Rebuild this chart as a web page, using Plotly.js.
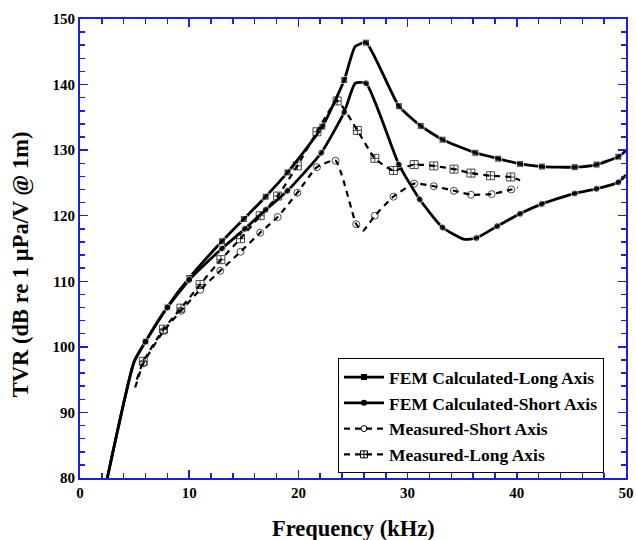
<!DOCTYPE html>
<html>
<head>
<meta charset="utf-8">
<script src="https://cdn.plot.ly/plotly-3.0.1.min.js"></script>
<style>html,body{margin:0;padding:0;background:#fff;}#chart{width:636px;height:540px;}</style>
</head>
<body>
<div id="chart"></div>
<script>
// FEM Calculated - Long Axis
const femLongX = [2.5, 4.95, 6.0, 8.0, 10.0, 13.0, 15.0, 17.0, 19.0, 22.2, 24.2, 25.2, 26.2, 29.2, 31.2, 33.2, 36.2, 38.3, 40.3, 42.3, 45.3, 47.3, 49.3, 50.0];
const femLongY = [80.0, 97.7, 100.8, 106.1, 110.5, 116.1, 119.5, 122.9, 126.6, 133.6, 140.7, 145.8, 146.4, 136.7, 133.7, 131.6, 129.6, 128.7, 127.9, 127.5, 127.4, 127.8, 129.0, 129.9];
const femLongMarked = [0, 0, 1, 1, 1, 1, 1, 1, 1, 1, 1, 0, 1, 1, 1, 1, 1, 1, 1, 1, 1, 1, 1, 0];

// FEM Calculated - Short Axis
const femShortX = [2.5, 4.95, 6.0, 8.0, 10.0, 13.0, 15.1, 17.0, 19.0, 22.1, 24.2, 25.2, 26.2, 29.2, 31.1, 33.2, 35.2, 36.3, 38.2, 40.3, 42.3, 45.3, 47.3, 49.3, 50.0];
const femShortY = [80.0, 97.7, 100.8, 106.0, 110.2, 115.0, 118.0, 120.9, 123.8, 129.6, 135.8, 140.2, 140.2, 127.8, 122.5, 118.2, 116.4, 116.6, 118.4, 120.3, 121.8, 123.4, 124.1, 125.1, 126.2];
const femShortMarked = [0, 0, 1, 1, 1, 1, 1, 1, 1, 1, 1, 0, 1, 1, 1, 1, 0, 1, 1, 1, 1, 1, 1, 1, 0];

// Measured - Short Axis
const measShortX = [5.05, 5.8, 7.65, 9.24, 11.0, 12.84, 14.7, 16.5, 18.1, 19.9, 21.7, 23.4, 25.3, 25.9, 27.0, 28.7, 30.6, 32.4, 34.25, 35.8, 37.7, 39.5, 40.1];
const measShortY = [93.8, 97.5, 102.4, 105.5, 108.7, 111.6, 114.5, 117.4, 119.8, 123.5, 127.4, 128.4, 118.7, 117.7, 120.0, 122.9, 124.9, 124.5, 123.8, 123.2, 123.3, 124.0, 124.3];
const measShortMarked = [0, 1, 1, 1, 1, 1, 1, 1, 1, 1, 1, 1, 1, 0, 1, 1, 1, 1, 1, 1, 1, 1, 0];

// Measured - Long Axis
const measLongX = [5.2, 5.8, 7.65, 9.24, 11.0, 12.9, 14.7, 16.5, 18.1, 19.9, 21.7, 23.55, 25.4, 27.0, 28.7, 30.6, 32.4, 34.25, 35.8, 37.6, 39.45, 40.3];
const measLongY = [95.0, 97.8, 102.7, 105.9, 109.5, 113.3, 116.5, 120.0, 123.0, 127.6, 132.8, 137.5, 133.0, 128.75, 126.9, 127.8, 127.6, 127.1, 126.5, 126.1, 125.9, 125.4];
const measLongMarked = [0, 1, 1, 1, 1, 1, 1, 1, 1, 1, 1, 1, 1, 1, 1, 1, 1, 1, 1, 1, 1, 0];

const seriesNames = ['FEM Calculated-Long Axis', 'FEM Calculated-Short Axis', 'Measured-Short Axis', 'Measured-Long Axis'];
const xTickVals = [0, 10, 20, 30, 40, 50];
const yTickVals = [80, 90, 100, 110, 120, 130, 140, 150];
const xTitle = 'Frequency (kHz)';
const yTitle = 'TVR (dB re 1 µPa/V @ 1m)';

const serif = 'Liberation Serif, Times New Roman, serif';
const axisBlue = 'rgb(30,30,225)';

function sizes(flags, s) { return flags.map(f => f ? s : 0); }

const styles = [
  {line: {color: '#000', width: 2.8, shape: 'spline', smoothing: 0.5},
   marker: {symbol: 'square', color: '#000', size: 7}},
  {line: {color: '#000', width: 2.8, shape: 'spline', smoothing: 0.5},
   marker: {symbol: 'circle', color: '#000', size: 7}},
  {line: {color: '#000', width: 2.2, dash: '6px,5px', shape: 'spline', smoothing: 0.5},
   marker: {symbol: 'circle-open', color: '#000', size: 7, line: {width: 1, color: '#000'}}},
  {line: {color: '#000', width: 2.2, dash: '6px,5px', shape: 'spline', smoothing: 0.5},
   marker: {symbol: 'square-cross-open', color: '#000', size: 8, line: {width: 1, color: '#000'}}}
];
const dataX = [femLongX, femShortX, measShortX, measLongX];
const dataY = [femLongY, femShortY, measShortY, measLongY];
const flags = [femLongMarked, femShortMarked, measShortMarked, measLongMarked];

const traces = [];
for (let i = 0; i < 4; i++) {
  const m = Object.assign({}, styles[i].marker, {size: sizes(flags[i], styles[i].marker.size)});
  traces.push({x: dataX[i], y: dataY[i], name: seriesNames[i], mode: 'lines+markers',
    line: styles[i].line, marker: m, showlegend: false});
}
// legend entries (no data points, just the legend symbols)
for (let i = 0; i < 4; i++) {
  const m = Object.assign({}, styles[i].marker, {size: styles[i].marker.size - 1});
  traces.push({x: [null], y: [null], name: seriesNames[i], mode: 'lines+markers',
    line: Object.assign({}, styles[i].line, {shape: 'linear'}), marker: m, showlegend: true});
}

const axisCommon = {
  showgrid: false, zeroline: false,
  showline: true, linecolor: axisBlue, linewidth: 2, mirror: 'ticks',
  ticks: 'inside', ticklen: 8, tickwidth: 1.5, tickcolor: axisBlue,
  tickfont: {family: serif, size: 15, color: '#000', weight: 'bold'}
};

const titleFont = {family: serif, size: 22.5, color: '#000', weight: 'bold'};

const layout = {
  width: 636, height: 540,
  margin: {l: 80, r: 10, t: 19, b: 62},
  paper_bgcolor: '#fff', plot_bgcolor: '#fff',
  showlegend: true,
  legend: {
    x: 0.4725, y: 0.261, xanchor: 'left', yanchor: 'top',
    bgcolor: '#fff', bordercolor: '#000', borderwidth: 1,
    font: {family: serif, size: 17.5, color: '#000', weight: 'bold'},
    tracegroupgap: 0, itemwidth: 40
  },
  xaxis: Object.assign({}, axisCommon, {
    range: [0, 50], tickvals: xTickVals, ticktext: xTickVals.map(String),
    minor: {dtick: 2, tick0: 0, ticks: 'inside', ticklen: 5, tickwidth: 1.5, tickcolor: axisBlue}
  }),
  yaxis: Object.assign({}, axisCommon, {
    range: [80, 150], tickvals: yTickVals, ticktext: yTickVals.map(String),
    minor: {dtick: 2, tick0: 80, ticks: 'inside', ticklen: 5, tickwidth: 1.5, tickcolor: axisBlue}
  }),
  annotations: [
    {text: xTitle, xref: 'paper', yref: 'paper', x: 0.5, y: -0.109, xanchor: 'center', yanchor: 'middle',
     showarrow: false, font: titleFont},
    {text: yTitle, xref: 'paper', yref: 'paper', x: -0.108, y: 0.466, xanchor: 'center', yanchor: 'middle',
     textangle: -90, showarrow: false, font: titleFont}
  ]
};

Plotly.newPlot('chart', traces, layout, {displayModeBar: false, staticPlot: true});
</script>
</body>
</html>
